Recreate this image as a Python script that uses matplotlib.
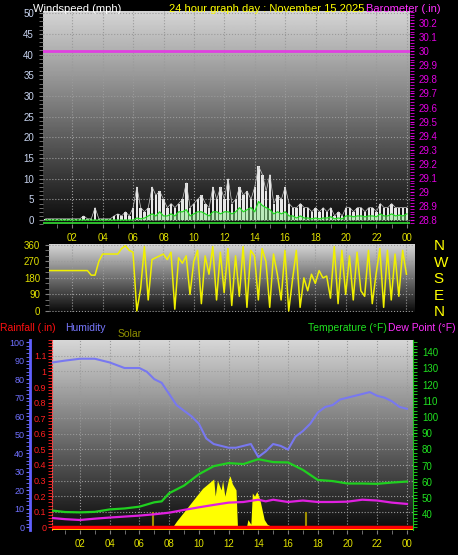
import numpy as np
import matplotlib
matplotlib.use("Agg")
import matplotlib.pyplot as plt
from matplotlib.ticker import MultipleLocator

plt.rcParams['font.family'] = ['Liberation Sans', 'DejaVu Sans']

# ---------------- data ----------------
hour_labels = ["02", "04", "06", "08", "10", "12", "14", "16", "18", "20", "22", "00"]
hour_ticks = [2, 4, 6, 8, 10, 12, 14, 16, 18, 20, 22, 24]

t15 = [0.25 * (i + 1) for i in range(96)]
gust = [0.3,0.3,0.3,0.3,0.3,0.3,0.3,0.3,0.3,0.3,1,0.3,
        0.3,3,0.3,0.3,0.3,0.3,1,1.5,1,2,1,3,
        8,3,2,3,8,6,7,5,3,4,3,4,
        5,9,3,4,5,6,4,3,8,5,8,5,
        10,4,5,8,6,7,5,8,13,11,7,11,
        4,6,5,8,4,3,3,4,3,3,2,3,
        2,3,2,3,1,2,1,3,3,2,3,3,
        2,3,3,2,4,3,3,4,3,3,3,3]
avg_wind = [0]*24 + [0.5,0.3,0.5,1,1.5,1,2,1,1,1.5,1,2,
        2,2.5,1,1.5,2,2,1.5,1,2,2,1.5,2,
        2,1.5,2,3,2,2.5,3,2,4.5,3.5,3,2.5,
        1.5,2,1.5,2,1,1,0.5,1,0.5,0.5,0.3,0.5,
        0.3,0.5,0.5,0.8,0.3,0.5,0.3,1,1,0.8,1,1,
        0.8,1,1,0.8,1.5,1,1,1.5,1,1.2,1,1.5]
barometer = 30.0

direction = [220]*12 + [195,195,270,310,310,310,310,310,340,355,330,320,
        0,120,350,60,280,290,300,310,280,320,10,290,
        260,300,90,270,330,40,300,200,350,60,320,100,
        340,30,300,80,350,20,330,300,60,340,270,20,
        310,200,60,330,0,170,330,20,180,110,200,150,
        220,180,190,70,350,40,330,90,300,60,320,110,
        80,330,40,200,340,20,330,60,310,80,330,200]

hum_t = [0.15,1,2,3,4,5,6,6.5,7,7.5,8,8.5,9,9.5,10,10.5,11,11.5,12,12.5,13,13.5,14,14.5,15,15.5,16,16.5,17,17.5,18,18.5,19,19.5,20,20.5,21,21.5,22,22.5,23,23.5,24]
humidity = [89,90,91,91,89,86,86,84,80,78,72,66,63,60,56,48,45,44,43,43,44,45,38,41,45,44,42,49,52,56,62,65,66,69,70,71,72,73,71,70,68,65,64]

tmp_t = [0.15,1,2,3,4,5,6,7,7.5,8,9,10,11,12,13,14,15,16,17,18,19,20,21,22,23,24]
temperature = [42.3,41.4,41.2,41.5,43,43.6,44.7,47.4,48,53,57.7,64.7,69.7,71.6,71,74,72.2,72,67.4,61.2,60.5,59,59,58.8,59.6,60.2]
dew_t = [0.15,1,2,3,4,5,6,7,8,9,10,11,12,13,14,14.5,15,16,17,18,19,20,21,22,23,24]
dewpoint = [37.7,37,36.5,37.3,38,38.6,39.2,40,41,42.7,44.3,45.8,47.2,47.6,49,48,49,47.6,48.5,47.6,47.6,47.8,49,48.5,47.2,46.4]

sol_t = [8.0,8.25,8.5,8.75,9,9.25,9.5,9.75,10,10.25,10.5,10.75,11,11.1,11.25,11.5,11.6,11.75,12,12.1,12.25,12.5,12.6,13.2,13.3,13.5,13.6,13.75,13.9,14.1,14.4,14.6,14.9,15]
solar = [0,5,40,70,100,130,160,190,220,250,270,290,310,200,300,240,300,200,310,330,280,240,0,0,50,20,220,200,230,180,50,20,5,0]
sun_marks = [6.9, 17.2]
rain_t = [0.15, 24.4]
rainfall = [0, 0]

# ---------------- figure ----------------
fig = plt.figure(figsize=(4.58, 5.55), dpi=100, facecolor='black')
grad = np.linspace(0, 1, 256).reshape(-1, 1)

def setup(ax, xlim, ylim):
    ax.set_facecolor('black')
    ax.set_xlim(*xlim); ax.set_ylim(*ylim)
    ax.imshow(grad, cmap='gray', vmin=-0.05, vmax=1.2, aspect='auto',
              extent=[0, 1, 0, 1], transform=ax.transAxes, zorder=0, origin='lower')
    ax.set_xticks(hour_ticks)
    ax.xaxis.set_minor_locator(MultipleLocator(1))
    ax.grid(True, which='major', color='#9a9a9a', linestyle=':', linewidth=0.8)
    for s in ax.spines.values():
        s.set_visible(False)
    ax.tick_params(axis='both', which='both', colors='#808080', labelsize=7, length=3)

def twin(ax):
    t = ax.twinx()
    for s in t.spines.values():
        s.set_visible(False)
    t.tick_params(axis='x', which='both', bottom=False, top=False,
                  labelbottom=False, labeltop=False)
    return t

# Panel 1: wind
ax1 = fig.add_axes([0.094, 0.596, 0.801, 0.384])
setup(ax1, (0.08, 24.2), (-1, 50.5))
ax1.bar(t15, gust, width=0.16, color='#e8e8e8', zorder=2, linewidth=0)
ax1.plot(t15, gust, color='#cfcfcf', linewidth=0.5, zorder=2)
ax1.fill_between(t15, avg_wind, 0, color='#90ee90', alpha=0.5, zorder=4, linewidth=0)
ax1.plot(t15, avg_wind, color='#22dd22', linewidth=0.9, zorder=5)
ax1.axhline(-0.7, color='#33dd33', linewidth=1.2, zorder=5)
ax1.set_yticks(range(0, 51, 5))
ax1.yaxis.set_minor_locator(MultipleLocator(1))
ax1.set_xticklabels(hour_labels, color='#e0e000')
ax1.tick_params(axis='y', labelcolor='#c8d4f0')
ax1b = twin(ax1)
ax1b.set_ylim(28.8 - 1 * 1.2 / 40.8, 28.8 + 50.5 * 1.2 / 40.8)
ax1b.axhline(barometer, color='#e040e0', linewidth=2, zorder=6)
bt = np.round(np.arange(28.8, 30.21, 0.1), 1)
ax1b.set_yticks(bt)
ax1b.set_yticklabels([f"{v:g}" for v in bt])
ax1b.yaxis.set_minor_locator(MultipleLocator(0.02))
ax1b.tick_params(axis='y', which='both', colors='#e000e0', labelsize=7, length=3)

fig.text(0.072, 0.993, "Windspeed (mph)", color='white', fontsize=8, va='top')
fig.text(0.37, 0.993, "24 hour graph day : November 15 2025", color='#ffff00', fontsize=8, va='top')
fig.text(0.80, 0.993, "Barometer (.in)", color='#ff30ff', fontsize=8, va='top')

# Panel 2: direction
ax2 = fig.add_axes([0.107, 0.438, 0.797, 0.1225])
setup(ax2, (0.47, 24.5), (-5, 365))
ax2.plot([0.15] + t15, [220] + direction, color='#f0f000', linewidth=1.1, zorder=3)
ax2.set_yticks([0, 90, 180, 270, 360])
ax2.yaxis.set_minor_locator(MultipleLocator(30))
ax2.tick_params(axis='x', which='both', bottom=False, labelbottom=False,
                top=False, labeltop=False)
ax2.tick_params(axis='y', labelcolor='#e0e000')
ax2b = twin(ax2)
ax2b.set_ylim(-5, 365)
ax2b.set_yticks([0, 90, 180, 270, 360])
ax2b.set_yticklabels(["N", "E", "S", "W", "N"])
ax2b.tick_params(axis='y', colors='#ffff00', labelsize=11, length=0, pad=14)

# Panel 3: rain / humidity / temp
ax3 = fig.add_axes([0.1135, 0.045, 0.788, 0.342])
setup(ax3, (0.12, 24.4), (-0.017, 1.2))
rt = np.round(np.arange(0, 1.15, 0.1), 1)
ax3.set_yticks(rt)
ax3.set_yticklabels([f"{v:g}" for v in rt])
ax3.yaxis.set_minor_locator(MultipleLocator(0.02))
ax3.tick_params(axis='y', which='both', colors='#ff2020', labelsize=6.5, pad=1)
ax3.set_xticklabels(hour_labels, color='#e0e000')
ax3.spines['left'].set_visible(True)
ax3.spines['left'].set_color('#ff4040')
ax3.spines['left'].set_linestyle(':')
axs = twin(ax3)
axs.set_ylim(-17, 1200)
axs.fill_between(sol_t, solar, 0, color='#ffff00', linewidth=0, zorder=2)
axs.vlines(sun_marks, 0, 100, color='#a09000', linewidth=1.5)
axs.axhline(-10, color='#ffff00', linewidth=1.5)
axs.set_yticks([])
axh = twin(ax3)
axh.set_ylim(-1.4, 101)
axh.plot(hum_t, humidity, color='#7878f0', linewidth=1.5)
axh.yaxis.tick_left()
axh.spines['left'].set_visible(True)
axh.spines['left'].set_position(('outward', 16))
axh.spines['left'].set_color('#6060ff')
axh.spines['left'].set_linewidth(2)
axh.set_yticks(range(0, 101, 10))
axh.yaxis.set_minor_locator(MultipleLocator(2))
axh.tick_params(axis='y', which='both', colors='#7070ff', labelsize=6.5, length=3, pad=1)
axt = twin(ax3)
axt.set_ylim(30.3, 147.4)
axt.plot(tmp_t, temperature, color='#20d020', linewidth=1.6)
axt.plot(dew_t, dewpoint, color='#e020e0', linewidth=1.6)
axt.set_yticks(range(40, 141, 10))
axt.yaxis.set_minor_locator(MultipleLocator(2))
axt.spines['right'].set_visible(True)
axt.spines['right'].set_color('#20c020')
axt.tick_params(axis='y', which='both', colors='#20e020', labelsize=7, length=3)
axr = twin(ax3)
axr.set_ylim(-0.017, 1.2)
axr.plot(rain_t, rainfall, color='#ff0000', linewidth=2.5, zorder=5)
axr.set_yticks([])

fig.text(0.0, 0.418, "Rainfall (.in)", color='#ff1010', fontsize=7.5, va='top')
fig.text(0.142, 0.418, "Humidity", color='#7878ff', fontsize=7.5, va='top')
fig.text(0.257, 0.408, "Solar", color='#909000', fontsize=7.5, va='top')
fig.text(0.672, 0.418, "Temperature (°F)", color='#20e020', fontsize=7.5, va='top')
fig.text(0.848, 0.418, "Dew Point (°F)", color='#ff30ff', fontsize=7.5, va='top')

fig.savefig("out.png", dpi=100, facecolor='black')
